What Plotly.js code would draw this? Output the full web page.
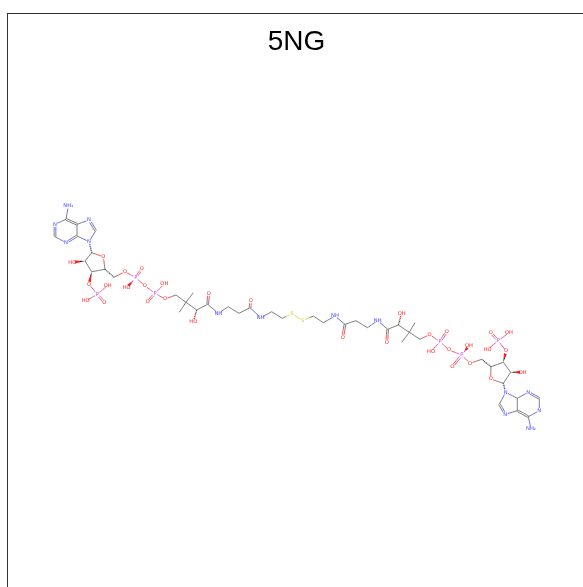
<!DOCTYPE html>
<html><head><meta charset="utf-8">
<script src="https://cdn.plot.ly/plotly-3.0.1.min.js"></script>
<style>html,body{margin:0;padding:0;background:#fff;overflow:hidden}#plot{width:583px;height:587px;filter:blur(0.45px)}</style>
</head><body><div id="plot"></div>
<script>
const titleText = '5NG';
const atomIds = ['aN6','aC6','aN1','aC2','aN3','aC4','aC5','aN7','aC8','aN9','aC1p','aO4p','aC4p','aC3p','aC2p','aO2p','aO3p','aP3','aO3a','aO3b','aO3c','aC5p','aO5p','aPa','aOa1','aOa2','aOab','aPb','aOb1','aOb2','aO6','aC7','aCq','aM1','aM2','aC9','aO9','aC10','aO10','aN11','aC12','aC13','aC14','aO14','aN15','aC16','aC17','aS','bS','bC17','bC16','bN15','bC14','bO14','bC13','bC12','bN11','bC10','bO10','bC9','bO9','bCq','bM1','bM2','bC7','bO6','bPb','bOb2','bOb1','bOab','bPa','bOa2','bOa1','bO5p','bC5p','bC4p','bO4p','bC1p','bC2p','bO2p','bC3p','bO3p','bP3','bO3a','bO3c','bO3b','bN9','bC8','bN7','bC5','bC4','bN3','bC2','bN1','bC6','bN6'];
const atomX = [68.3,66,55,55,66,77,77,89,95.7,89,91.7,103.3,105,91.7,85,72.3,89,97.3,107.7,85.7,104.3,114,125,135.7,141.7,126.7,144.7,155,164.3,147.7,165,176,186,193.3,179.3,196.7,193.3,207.7,208.7,218.3,228.3,239,250,250.7,260.7,271.7,282.3,292,302.7,313.3,323.3,335,345,342.7,356,367.3,377.7,387.7,386.7,398.3,401.7,409.3,415,401.7,420,429.6,440,446.7,431,449,461.7,469,452.3,470,481.7,491,490.7,503.3,510.7,522.7,503.3,506,498.3,509,490.7,487.7,505.7,499.3,505.3,517.3,517.3,528.3,539.3,539.3,528.3,531];
const atomY = [206,219.3,224.3,236.7,242.7,236,224.3,220,230.7,241.7,252.7,256.7,269.3,271.7,261,262.3,284.3,294.3,285.3,301,302.3,277.3,271.7,277.7,269,287.7,285.7,293.3,284,301.7,299,295,302.3,292.7,312.3,310,321.7,304.3,293.3,313.3,306.7,313.3,307.7,300.7,317.7,311.7,318.3,313.7,320.7,316,322.7,316,324.3,337.3,320.7,327.7,320.7,329.3,342.3,325,313.3,332.3,322.7,342.3,339.3,334.6,341.7,331.7,351.7,350,355,345.7,366.7,363.3,359.3,366.7,379,383.3,372.3,372.3,362.3,351,340.7,332.7,332.7,349.3,392.3,404,414.3,410.7,398.3,392.3,398.3,410.7,416.7,429];
const atomElements = ['N','C','N','C','N','C','C','N','C','N','C','O','C','C','C','O','O','P','O','O','O','C','O','P','O','O','O','P','O','O','O','C','C','C','C','C','O','C','O','N','C','C','C','O','N','C','C','S','S','C','C','N','C','O','C','C','N','C','O','C','O','C','C','C','C','O','P','O','O','O','P','O','O','O','C','C','O','C','C','O','C','O','P','O','O','O','N','C','N','C','C','N','C','N','C','N'];
const atomLabels = ['NH₂','','N','','N','','','N','','N','','O','','','','HO','O','P','OH','HO','O','','O','P','O','HO','O','P','OH','O','O','','','','','','HO','','O','NH','','','','O','NH','','','S','S','','','NH','','O','','','NH','','O','','OH','','','','','O','P','O','HO','O','P','OH','O','O','','','O','','','OH','','O','P','OH','O','HO','N','','N','','','N','','N','','NH₂'];
const singleBonds = ['aN6-aC6','aC6-aN1','aC2-aN3','aC4-aC5','aC5-aN7','aC8-aN9','aN9-aC4','aC1p-aO4p','aO4p-aC4p','aC4p-aC3p','aC3p-aC2p','aC2p-aC1p','aO3p-aP3','aP3-aO3a','aP3-aO3b','aC5p-aO5p','aO5p-aPa','aPa-aOab','aOab-aPb','aPb-aOb1','aPb-aO6','aO6-aC7','aC7-aCq','aCq-aM1','aCq-aM2','aCq-aC9','aC9-aC10','aC10-aN11','aN11-aC12','aC12-aC13','aC13-aC14','aC14-aN15','aN15-aC16','aC16-aC17','aC17-aS','aS-bS','bS-bC17','bC17-bC16','bC16-bN15','bN15-bC14','bC14-bC13','bC13-bC12','bC12-bN11','bN11-bC10','bC10-bC9','bC9-bCq','bCq-bM1','bCq-bM2','bCq-bC7','bC7-bO6','bO6-bPb','bPb-bOb1','bPb-bOab','bOab-bPa','bPa-bO5p','bO5p-bC5p','bC4p-bO4p','bO4p-bC1p','bC1p-bC2p','bC2p-bC3p','bC3p-bC4p','bO3p-bP3','bP3-bO3a','bP3-bO3b','bN9-bC8','bN7-bC5','bC5-bC4','bC4-bN9','bC4-bN3','bC2-bN1','bC6-bN1','bC6-bN6'];
const doubleBonds = ['aN1-aC2','aN3-aC4','aC5-aC6','aN7-aC8','aP3-aO3c','aPa-aOa1','aPb-aOb2','aC10-aO10','aC14-aO14','bC14-bO14','bC10-bO10','bPb-bOb2','bPa-bOa1','bP3-bO3c','bC8-bN7','bC5-bC6','bN3-bC2'];
const wedgeBonds = ['aC2p-aO2p','aC3p-aO3p','aPa-aOa2','bC2p-bO2p','bC3p-bO3p','bPa-bOa2'];
const hashBonds = ['aC1p-aN9','aC4p-aC5p','bC1p-bN9','bC4p-bC5p','aC9-aO9','bC9-bO9'];
const elementColors = {C:'#555555',N:'#3b3bff',O:'#ff1a1a',P:'#cc44cc',S:'#d8c820'};

const idx = Object.fromEntries(atomIds.map((a,i)=>[a,i]));
const blank = ()=>({C:{x:[],y:[]},N:{x:[],y:[]},O:{x:[],y:[]},P:{x:[],y:[]},S:{x:[],y:[]}});
const segs = blank(), fills = blank(), dashes = blank();
function ends(b){
  const [p,q]=b.split('-'); const i=idx[p], j=idx[q];
  let x1=atomX[i],y1=atomY[i],x2=atomX[j],y2=atomY[j];
  const d=Math.hypot(x2-x1,y2-y1),ux=(x2-x1)/d,uy=(y2-y1)/d;
  const s1=atomLabels[i]?2.6:0,s2=atomLabels[j]?2.6:0;
  return {i,j,ux,uy,x1:x1+ux*s1,y1:y1+uy*s1,x2:x2-ux*s2,y2:y2-uy*s2};
}
function half(e,off,tgt){
  const nx=-e.uy*off,ny=e.ux*off,mx=(e.x1+e.x2)/2,my=(e.y1+e.y2)/2;
  const A=tgt[atomElements[e.i]], B=tgt[atomElements[e.j]];
  A.x.push(e.x1+nx,mx+nx,null);A.y.push(e.y1+ny,my+ny,null);
  B.x.push(mx+nx,e.x2+nx,null);B.y.push(my+ny,e.y2+ny,null);
}
singleBonds.forEach(b=>half(ends(b),0,segs));
doubleBonds.forEach(b=>{const e=ends(b);half(e,0.85,segs);half(e,-0.85,segs)});
hashBonds.forEach(b=>half(ends(b),0,dashes));
wedgeBonds.forEach(b=>{
  const e=ends(b);
  const w=1.5,mx=(e.x1+e.x2)/2,my=(e.y1+e.y2)/2,nx=-e.uy,ny=e.ux;
  const A=fills[atomElements[e.i]],B=fills[atomElements[e.j]];
  A.x.push(e.x1,mx+nx*w/2,mx-nx*w/2,e.x1,null);A.y.push(e.y1,my+ny*w/2,my-ny*w/2,e.y1,null);
  B.x.push(mx+nx*w/2,e.x2+nx*w,e.x2-nx*w,mx-nx*w/2,mx+nx*w/2,null);
  B.y.push(my+ny*w/2,e.y2+ny*w,e.y2-ny*w,my-ny*w/2,my+ny*w/2,null);
});
const traces=[];
for(const k in segs) if(segs[k].x.length) traces.push({type:'scatter',mode:'lines',x:segs[k].x,y:segs[k].y,line:{color:elementColors[k],width:0.75},hoverinfo:'skip'});
for(const k in dashes) if(dashes[k].x.length) traces.push({type:'scatter',mode:'lines',x:dashes[k].x,y:dashes[k].y,line:{color:elementColors[k],width:1.4,dash:'1px,0.7px'},hoverinfo:'skip'});
for(const k in fills) if(fills[k].x.length) traces.push({type:'scatter',mode:'lines',x:fills[k].x,y:fills[k].y,fill:'toself',fillcolor:k==='C'?'#222':elementColors[k],line:{width:0},hoverinfo:'skip'});
for(const k in elementColors){
  const ii=atomIds.map((_,i)=>i).filter(i=>atomElements[i]===k&&atomLabels[i]);
  if(ii.length) traces.push({type:'scatter',mode:'text',x:ii.map(i=>atomX[i]),y:ii.map(i=>atomY[i]),text:ii.map(i=>atomLabels[i]),textposition:'middle center',textfont:{family:'DejaVu Sans',size:5.2,color:elementColors[k]},cliponaxis:false,hoverinfo:'skip'});
}
const ax={showgrid:false,zeroline:false,showticklabels:false,ticks:'',showline:true,linecolor:'#333',linewidth:1};
Plotly.newPlot('plot',traces,{
  width:583,height:587,showlegend:false,paper_bgcolor:'#fff',plot_bgcolor:'#fff',
  margin:{l:8,t:14,r:0,b:0,pad:0},
  title:{text:titleText,x:296.5/583,xanchor:'center',xref:'container',y:1-40/587,yanchor:'middle',yref:'container',font:{family:'Liberation Sans',size:28,color:'#000'}},
  xaxis:Object.assign({range:[8,583],side:'top'},ax),
  yaxis:Object.assign({range:[587,14]},ax)
},{displayModeBar:false,staticPlot:true});
</script></body></html>
